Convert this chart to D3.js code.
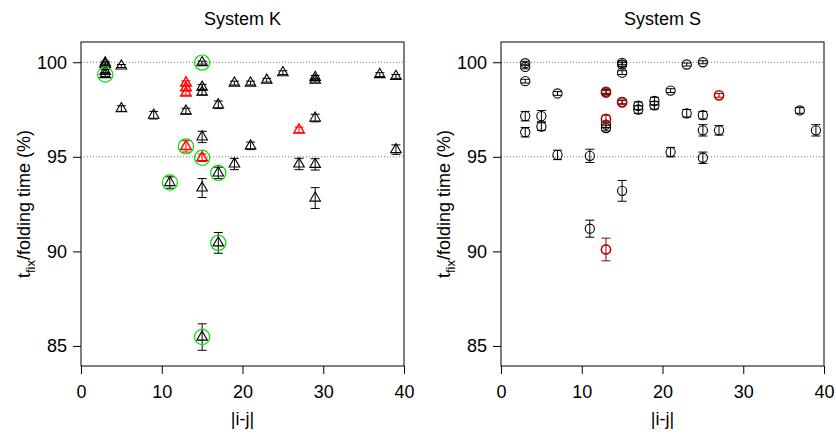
<!DOCTYPE html>
<html>
<head>
<meta charset="utf-8">
<script src="https://cdn.jsdelivr.net/npm/d3@7"></script>
<style>
  body { margin: 0; background: #fff; }
  svg { display: block; font-family: "Liberation Sans", Arial, sans-serif; }
</style>
</head>
<body>
<div id="chart"></div>
<script>
// Panel titles and axis ticks
const titles = ["System K", "System S"];
const xTicks = [0, 10, 20, 30, 40];
const yTicks = [85, 90, 95, 100];
const gridLines = [95, 100];

// System K: |i-j|, t_fix/folding time (%), error, red flag, green ring flag
const sepK = [3, 3, 3, 3, 5, 5, 9, 13, 13, 13, 13, 13, 15, 15, 15, 15, 15, 15, 15, 11, 17, 17, 17, 19, 19, 21, 21, 23, 25, 27, 27, 29, 29, 29, 29, 29, 37, 39, 39];
const valK = [99.97, 99.88, 99.52, 99.35, 99.8, 97.55, 97.2, 98.9, 98.65, 98.38, 97.42, 95.55, 99.98, 98.68, 98.42, 96.05, 94.95, 93.35, 85.47, 93.64, 97.75, 94.15, 90.45, 98.9, 94.62, 98.9, 95.58, 99.05, 99.45, 96.42, 94.62, 99.2, 99.05, 97.05, 94.6, 92.82, 99.35, 99.25, 95.38];
const errK = [0.08, 0.08, 0.1, 0.1, 0.08, 0.15, 0.2, 0.12, 0.12, 0.12, 0.15, 0.3, 0.08, 0.15, 0.15, 0.3, 0.2, 0.5, 0.7, 0.3, 0.2, 0.3, 0.55, 0.1, 0.3, 0.1, 0.2, 0.1, 0.1, 0.15, 0.3, 0.1, 0.1, 0.2, 0.3, 0.55, 0.1, 0.1, 0.25];
const redK = [0, 0, 0, 0, 0, 0, 0, 1, 1, 1, 0, 1, 0, 0, 0, 0, 1, 0, 0, 0, 0, 0, 0, 0, 0, 0, 0, 0, 0, 1, 0, 0, 0, 0, 0, 0, 0, 0, 0];
const ringK = [0, 0, 0, 1, 0, 0, 0, 0, 0, 0, 0, 1, 1, 0, 0, 0, 1, 0, 1, 1, 0, 1, 1, 0, 0, 0, 0, 0, 0, 0, 0, 0, 0, 0, 0, 0, 0, 0, 0];

// System S: |i-j|, t_fix/folding time (%), error, red flag
const sepS = [3, 3, 3, 3, 3, 5, 5, 7, 7, 11, 11, 13, 13, 13, 13, 13, 13, 15, 15, 15, 15, 15, 15, 17, 17, 19, 19, 21, 21, 23, 23, 25, 25, 25, 25, 27, 27, 37, 39];
const valS = [99.95, 99.75, 99.0, 97.15, 96.3, 97.15, 96.6, 98.35, 95.1, 95.05, 91.2, 98.45, 98.4, 97.0, 96.7, 96.52, 90.1, 99.97, 99.88, 99.45, 97.9, 97.88, 93.2, 97.7, 97.5, 97.95, 97.72, 98.5, 95.25, 99.88, 97.3, 100.0, 97.2, 96.4, 94.95, 98.25, 96.4, 97.45, 96.4];
const errS = [0.1, 0.1, 0.1, 0.25, 0.25, 0.3, 0.2, 0.1, 0.25, 0.35, 0.45, 0.1, 0.1, 0.2, 0.15, 0.15, 0.6, 0.1, 0.1, 0.1, 0.1, 0.1, 0.55, 0.2, 0.2, 0.2, 0.2, 0.1, 0.25, 0.08, 0.2, 0.08, 0.2, 0.3, 0.3, 0.1, 0.25, 0.15, 0.3];
const redS = [0, 0, 0, 0, 0, 0, 0, 0, 0, 0, 0, 0, 1, 1, 0, 0, 1, 0, 0, 0, 0, 1, 0, 0, 0, 0, 0, 0, 0, 0, 0, 0, 0, 0, 0, 1, 0, 0, 0];

const width = 836;
const height = 435;
const fontFamily = "Liberation Sans, Arial, sans-serif";

const svg = d3.select("#chart").append("svg")
    .attr("width", width)
    .attr("height", height);

function drawPanel(offsetX, title, sep, val, err, red, ring, shape) {
    const left = 81 + offsetX, right = 404 + offsetX, top = 42, bottom = 366;

    const x = d3.scaleLinear().domain([0, 40]).range([left, right]);
    const y = d3.scaleLinear().domain([83.94, 101.07]).range([bottom, top]);

    const g = svg.append("g");

    // dotted reference lines
    g.selectAll(".grid")
        .data(gridLines)
        .join("line")
        .attr("x1", left).attr("x2", right)
        .attr("y1", d => y(d)).attr("y2", d => y(d))
        .attr("stroke", "#777")
        .attr("stroke-width", 1)
        .attr("stroke-dasharray", "1,2");

    // axes
    const gx = g.append("g")
        .attr("transform", `translate(0,${bottom})`)
        .call(d3.axisBottom(x).tickValues(xTicks).tickSize(8).tickPadding(11).tickFormat(d3.format("d")))
        .call(s => s.select(".domain").remove());
    gx.selectAll("text").attr("font-size", 18).attr("fill", "#000").attr("font-family", fontFamily);

    const gy = g.append("g")
        .attr("transform", `translate(${left},0)`)
        .call(d3.axisLeft(y).tickValues(yTicks).tickSize(8).tickPadding(6).tickFormat(d3.format("d")))
        .call(s => s.select(".domain").remove());
    gy.selectAll("text").attr("font-size", 18).attr("fill", "#000").attr("font-family", fontFamily);

    // frame
    g.append("rect")
        .attr("x", left).attr("y", top)
        .attr("width", right - left).attr("height", bottom - top)
        .attr("fill", "none").attr("stroke", "#000").attr("stroke-width", 1);

    // titles
    g.append("text")
        .attr("x", (left + right) / 2).attr("y", 25)
        .attr("text-anchor", "middle")
        .attr("font-size", 18)
        .text(title);

    g.append("text")
        .attr("x", (left + right) / 2).attr("y", 425)
        .attr("text-anchor", "middle")
        .attr("font-size", 18)
        .text("|i-j|");

    const yl = g.append("text")
        .attr("transform", `translate(${left - 51},${(top + bottom) / 2}) rotate(-90)`)
        .attr("text-anchor", "middle")
        .attr("font-size", 18);
    yl.append("tspan").text("t");
    yl.append("tspan").attr("font-size", 13).attr("dy", 5).text("fix");
    yl.append("tspan").attr("dy", -5).text("/folding time (%)");

    const idx = d3.range(sep.length).sort((a, b) => red[a] - red[b]);
    const redCol = shape === "tri" ? "#ff0000" : "#c00000";
    const barCol = shape === "tri" ? "#ff0000" : "#8b0000";

    // error bars
    const bars = g.append("g").selectAll("g")
        .data(idx)
        .join("g")
        .attr("stroke", i => red[i] ? barCol : "#000")
        .attr("stroke-width", 1);
    bars.append("line")
        .attr("x1", i => x(sep[i])).attr("x2", i => x(sep[i]))
        .attr("y1", i => y(val[i] - err[i])).attr("y2", i => y(val[i] + err[i]));
    bars.append("line")
        .attr("x1", i => x(sep[i]) - 4.5).attr("x2", i => x(sep[i]) + 4.5)
        .attr("y1", i => y(val[i] + err[i])).attr("y2", i => y(val[i] + err[i]));
    bars.append("line")
        .attr("x1", i => x(sep[i]) - 4.5).attr("x2", i => x(sep[i]) + 4.5)
        .attr("y1", i => y(val[i] - err[i])).attr("y2", i => y(val[i] - err[i]));

    // points
    if (shape === "tri") {
        g.append("g").selectAll("path")
            .data(idx)
            .join("path")
            .attr("transform", i => `translate(${x(sep[i])},${y(val[i])})`)
            .attr("d", "M0,-6.1L5.3,3.05L-5.3,3.05Z")
            .attr("fill", "none")
            .attr("stroke", i => red[i] ? redCol : "#000")
            .attr("stroke-width", i => red[i] ? 1.4 : 1.1);
    } else {
        g.append("g").selectAll("circle")
            .data(idx)
            .join("circle")
            .attr("cx", i => x(sep[i])).attr("cy", i => y(val[i]))
            .attr("r", 4.6)
            .attr("fill", "none")
            .attr("stroke", i => red[i] ? redCol : "#000")
            .attr("stroke-width", i => red[i] ? 1.6 : 1.1);
    }

    // green rings around selected points
    if (ring) {
        g.append("g").selectAll("circle")
            .data(idx.filter(i => ring[i]))
            .join("circle")
            .attr("cx", i => x(sep[i])).attr("cy", i => y(val[i]))
            .attr("r", 7.6)
            .attr("fill", "none")
            .attr("stroke", "#00e000")
            .attr("stroke-width", 1.2);
    }
}

drawPanel(0, titles[0], sepK, valK, errK, redK, ringK, "tri");
drawPanel(420, titles[1], sepS, valS, errS, redS, null, "circ");
</script>
</body>
</html>
